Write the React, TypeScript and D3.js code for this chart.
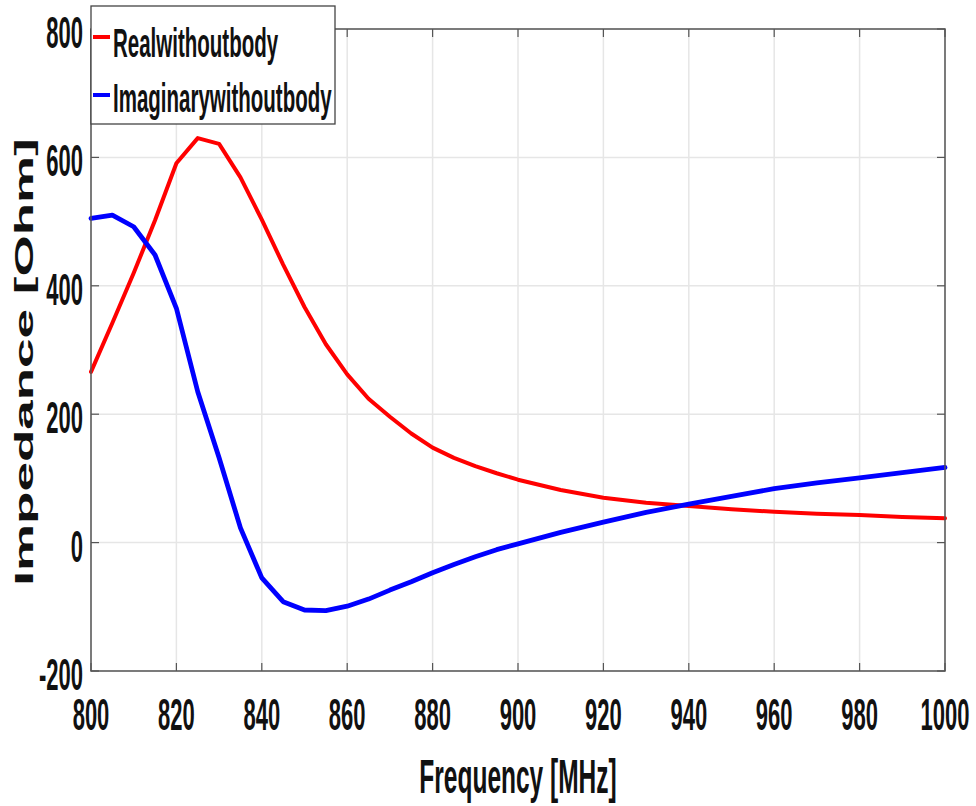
import React from "react";
import * as d3 from "d3";

const freqs = [800, 805, 810, 815, 820, 825, 830, 835, 840, 845, 850, 855, 860, 865, 870, 875, 880, 885, 890, 895, 900, 910, 920, 930, 940, 950, 960, 970, 980, 990, 1000];
const realWithoutBody = [266, 342, 420, 502, 591, 630, 621, 569, 503, 433, 367, 309, 262, 224, 196, 170, 148, 132, 119, 108, 98, 82, 70, 62, 57, 52, 48, 45, 43, 40, 38];
const imagWithoutBody = [505, 510, 492, 448, 365, 235, 132, 23, -55, -92, -105, -106, -99, -88, -74, -61, -47, -34, -22, -11, -2, 16, 32, 47, 60, 72, 84, 93, 101, 109, 117];
const xTicks = [800, 820, 840, 860, 880, 900, 920, 940, 960, 980, 1000];
const yTicks = [-200, 0, 200, 400, 600, 800];
const seriesNames = ["Realwithoutbody", "Imaginarywithoutbody"];
const seriesColors = ["#ff0000", "#0000ff"];

const W = 976, H = 806;
const L = 91, R = 945, T = 29, B = 671;
const FONT = "'Liberation Sans', Arial, sans-serif";

function SText({ x, y, size, anchor = "start", sx = 0.5, children }: any) {
  return (
    <g transform={`translate(${x},${y}) scale(${sx},1)`}>
      <text x={0} y={0} fontSize={size} fontWeight="bold" fontFamily={FONT} textAnchor={anchor} fill="#111">
        {children}
      </text>
    </g>
  );
}

export default function App() {
  const x = d3.scaleLinear().domain([800, 1000]).range([L, R]);
  const y = d3.scaleLinear().domain([-200, 800]).range([B, T]);
  const line = d3.line<number>().x((_, i) => x(freqs[i])).y((d) => y(d));
  const series = [realWithoutBody, imagWithoutBody];
  const widths = [4, 4.8];
  return (
    <svg width={W} height={H} style={{ position: "absolute", left: 0, top: 0, background: "#fff" }}>
      <rect x={0} y={0} width={W} height={H} fill="#fff" />
      {xTicks.map((t) => (
        <line key={"gx" + t} x1={x(t)} x2={x(t)} y1={T} y2={B} stroke="#e6e6e6" strokeWidth={1.5} />
      ))}
      {yTicks.map((t) => (
        <line key={"gy" + t} x1={L} x2={R} y1={y(t)} y2={y(t)} stroke="#e6e6e6" strokeWidth={1.5} />
      ))}
      {xTicks.map((t) => (
        <g key={"tx" + t}>
          <line x1={x(t)} x2={x(t)} y1={B} y2={B - 8} stroke="#555" strokeWidth={1.2} />
          <line x1={x(t)} x2={x(t)} y1={T} y2={T + 8} stroke="#555" strokeWidth={1.2} />
        </g>
      ))}
      {yTicks.map((t) => (
        <g key={"ty" + t}>
          <line x1={L} x2={L + 8} y1={y(t)} y2={y(t)} stroke="#555" strokeWidth={1.2} />
          <line x1={R} x2={R - 8} y1={y(t)} y2={y(t)} stroke="#555" strokeWidth={1.2} />
        </g>
      ))}
      {series.map((s, i) => (
        <path key={"s" + i} d={line(s) || ""} fill="none" stroke={seriesColors[i]} strokeWidth={widths[i]} strokeLinejoin="round" strokeLinecap="round" />
      ))}
      <rect x={L} y={T} width={R - L} height={B - T} fill="none" stroke="#555" strokeWidth={1.5} />
      {xTicks.map((t) => (
        <SText key={"lx" + t} x={x(t)} y={730} size={44} anchor="middle">{t}</SText>
      ))}
      {yTicks.map((t) => (
        <SText key={"ly" + t} x={83} y={y(t) + 19} size={44} anchor="end">{t}</SText>
      ))}
      <SText x={518} y={793} size={49} anchor="middle">Frequency [MHz]</SText>
      <g transform="translate(33,362) scale(0.5,1) rotate(-90)">
        <text x={0} y={0} fontSize={53} fontWeight="bold" fontFamily={FONT} textAnchor="middle" fill="#111">Impedance [Ohm]</text>
      </g>
      <rect x={91} y={6} width={244} height={118} fill="#fff" stroke="#444" strokeWidth={1.3} />
      {seriesNames.map((n, i) => (
        <g key={"lg" + i}>
          <line x1={93} x2={110} y1={i === 0 ? 37 : 95} y2={i === 0 ? 37 : 95} stroke={seriesColors[i]} strokeWidth={4} />
          <SText x={113} y={i === 0 ? 57 : 112} size={41}>{n}</SText>
        </g>
      ))}
    </svg>
  );
}
